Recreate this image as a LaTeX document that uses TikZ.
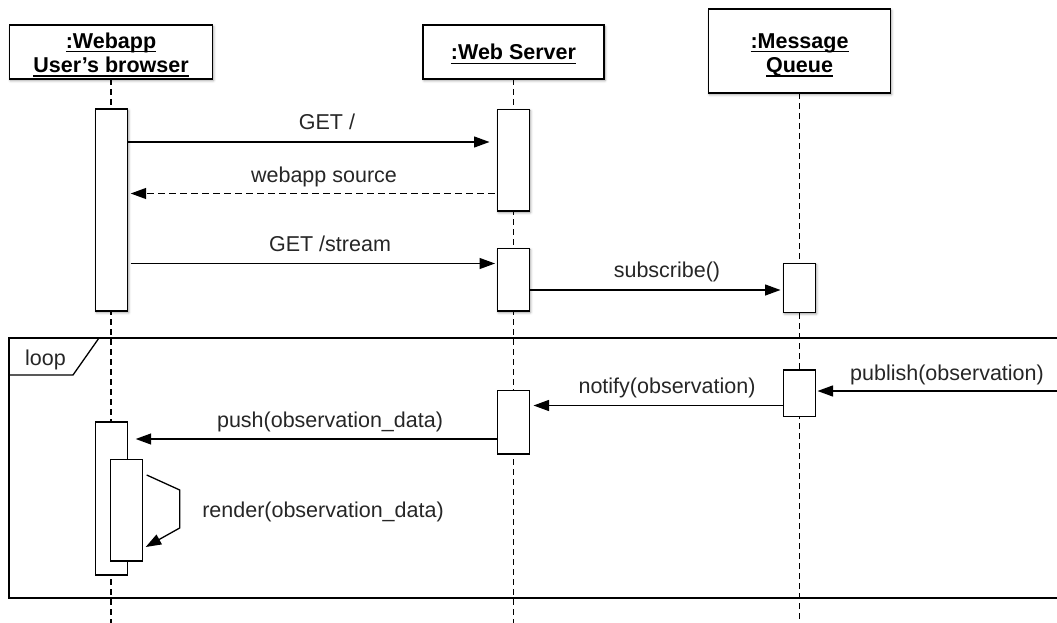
\documentclass[tikz,border=0pt]{standalone}
\usepackage{fontspec}
\setmainfont{Liberation Sans}
\usetikzlibrary{arrows.meta,calc,shadows.blur}
% underline at a fixed depth below the baseline, crossing descenders
\newcommand{\hdrline}[1]{\setbox0\hbox{#1}\rlap{\rule[-4pt]{\wd0}{1.4pt}}\box0}

\begin{document}
\begin{tikzpicture}[x=1pt,y=-1pt,
  font=\fontsize{21.5pt}{24.4pt}\selectfont,
  softshadow/.style={blur shadow={shadow xshift=1pt, shadow yshift=-1.6pt,
      shadow blur radius=2.5pt, shadow opacity=40}},
  hdr/.style={draw, line width=1.8pt, fill=white, inner sep=0pt, outer sep=0pt,
      align=center, font=\bfseries\fontsize{21.5pt}{24.4pt}\selectfont, softshadow},
  act/.style={draw, line width=1.4pt, fill=white, minimum width=32pt,
      inner sep=0pt, outer sep=0pt},
  life/.style={line width=1.3pt, dash pattern=on 6pt off 4pt},
  msg/.style={line width=1.3pt, -{Triangle[length=15.5pt,width=11pt]}},
  reply/.style={msg, dash pattern=on 7pt off 4pt},
  lbl/.style={anchor=base, inner sep=0pt, text=black!85},
  frameline/.style={line width=1.3pt},
]
\clip (0,0) rectangle (1057,623);

% participants
\node[hdr, minimum width=203pt, minimum height=54pt] (hdrA) at (111,52)
  {\rule{0pt}{21pt}\hdrline{:Webapp}\\\hdrline{User’s browser}};
\node[hdr, minimum width=181pt, minimum height=54pt] (hdrB) at (513.5,52)
  {\rule{0pt}{20pt}\hdrline{:Web Server}};
\node[hdr, minimum width=182pt, minimum height=84pt] (hdrC) at (799.5,51)
  {\rule{0pt}{23pt}\hdrline{:Message}\\\hdrline{Queue}};

% lifelines
\coordinate (endA) at (111,630);
\coordinate (endB) at (513.5,630);
\coordinate (endC) at (799.5,630);
\draw[life] (hdrA.south) -- (endA);
\draw[life] (hdrB.south) -- (endB);
\draw[life] (hdrC.south) -- (endC);

% loop fragment
\node[draw, frameline, anchor=north west, inner sep=0pt, outer sep=0pt,
      minimum width=1065pt, minimum height=260pt] (loopfr) at (9,338) {};
\draw[frameline] (loopfr.north west) ++(0,37) -- ++(64,0) -- ++(26,-37);
\node[lbl] (looplbl) at (45.5,365) {loop};

% activations
\node[act, softshadow, minimum height=202pt] (b1) at (111.7,210) {};
\node[act, softshadow, minimum height=101.7pt] (w1) at (513.5,160.2) {};
\node[act, softshadow, minimum height=62.7pt] (w2) at (513.5,279.7) {};
\node[act, softshadow, minimum height=49pt] (m1) at (799.5,287.8) {};
\node[act, minimum height=46.7pt] (m2) at (799.5,393.3) {};
\node[act, minimum height=63.3pt] (w3) at (513.5,422.3) {};
\node[act, minimum height=153pt] (b2) at (111.7,498.5) {};
\node[act, minimum height=101.7pt] (b3) at (126.7,510.2) {};

% messages
\draw[msg, shorten >=8pt] (b1.east |- 0,142) -- (w1.west |- 0,142);
\node[lbl] (lgetroot) at (327,129) {GET /};

\draw[reply, shorten <=3pt, shorten >=3pt] (w1.west |- 0,193.5) -- (b1.east |- 0,193.5);
\node[lbl] (lsource) at (324,182) {webapp source};

\draw[msg, shorten <=3pt, shorten >=2.5pt] (b1.east |- 0,263.5) -- (w2.west |- 0,263.5);
\node[lbl] (lstream) at (330,251) {GET /stream};

\draw[msg, shorten >=3pt] (w2.east |- 0,290) -- (m1.west |- 0,290);
\node[lbl] (lsub) at (667,277) {subscribe()};

\coordinate (pubsrc) at (1065,391);
\draw[msg, shorten >=2pt] (pubsrc) -- (m2.east |- pubsrc);
\node[lbl] (lpub) at (947,380) {publish(observation)};

\draw[msg, shorten >=4pt] (m2.west |- 0,405.5) -- (w3.east |- 0,405.5);
\node[lbl] (lnotify) at (667,393) {notify(observation)};

\draw[msg, shorten >=8pt] (w3.west |- 0,439) -- (b2.east |- 0,439);
\node[lbl] (lpush) at (330,427) {push(observation\_data)};

% self call
\draw[msg] ($(b3.east |- 0,475)+(4,0)$) -- ++(33,15) -- ++(0,38)
  -- ($(b3.east |- 0,547)+(3,0)$);
\node[lbl] (lrender) at (323,517) {render(observation\_data)};
\end{tikzpicture}
\end{document}
